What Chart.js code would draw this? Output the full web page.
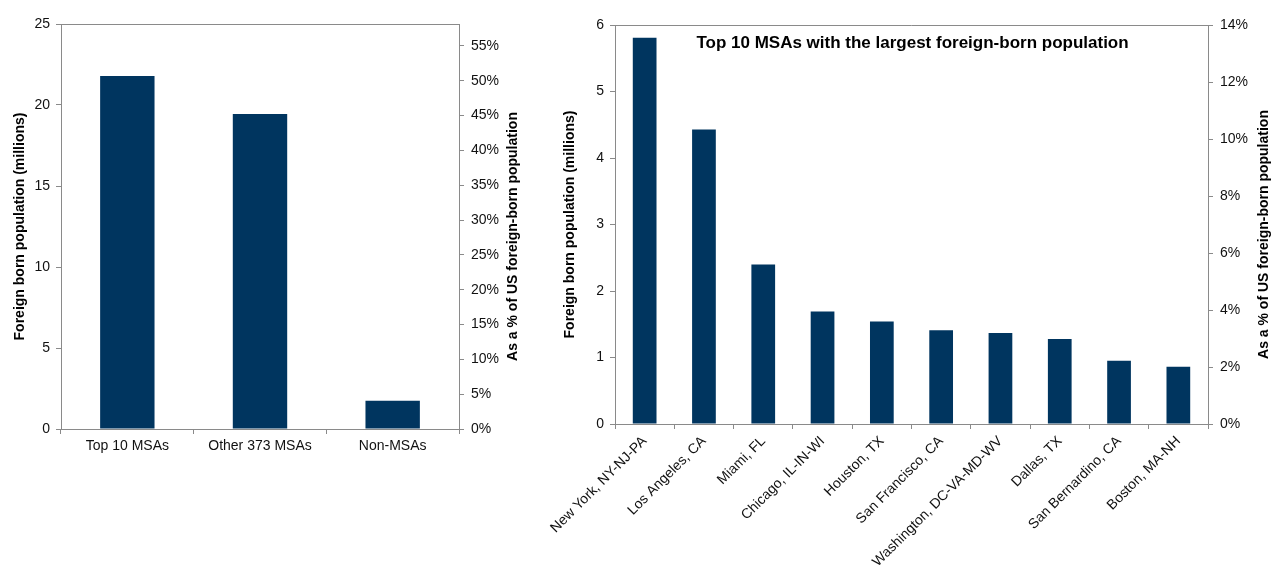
<!DOCTYPE html>
<html>
<head>
<meta charset="utf-8">
<script src="https://cdn.jsdelivr.net/npm/chart.js@4"></script>
<style>
  html, body { margin: 0; padding: 0; background: #fff; }
  #wrap { position: relative; width: 1271px; height: 567px; overflow: hidden; }
  #left { position: absolute; left: 0; top: 0; }
  #right { position: absolute; left: 540px; top: 0; }
</style>
</head>
<body>
<div id="wrap">
  <canvas id="left" width="540" height="567"></canvas>
  <canvas id="right" width="731" height="567"></canvas>
</div>
<script>
// Foreign-born population by area type (millions)
const groupLabels = ['Top 10 MSAs', 'Other 373 MSAs', 'Non-MSAs'];
const groupValues = [21.79, 19.45, 1.75];

// Ten largest metro areas by foreign-born population (millions)
const msaLabels = [
  'New York, NY-NJ-PA', 'Los Angeles, CA', 'Miami, FL', 'Chicago, IL-IN-WI',
  'Houston, TX', 'San Francisco, CA', 'Washington, DC-VA-MD-WV', 'Dallas, TX',
  'San Bernardino, CA', 'Boston, MA-NH'
];
const msaValues = [5.81, 4.43, 2.40, 1.69, 1.54, 1.41, 1.37, 1.28, 0.95, 0.86];

// Axis tick settings
const leftMillionsMax = 25, leftMillionsStep = 5;
const rightMillionsMax = 6, rightMillionsStep = 1;
const rightPctMax = 14, rightPctStep = 2;
const pctStepLeft = 5;

// Share axis on the left panel: millions as a percent of the US total
const usTotal = groupValues.reduce((s, v) => s + v, 0);
const leftPctMax = leftMillionsMax / usTotal * 100;

const FONT = '"Liberation Sans", Arial, Helvetica, sans-serif';
const AXIS = '#8a8a8a';
const BAR = '#00355f';
const TEXT = '#111';

Chart.defaults.font.family = FONT;
Chart.defaults.font.size = 14;
Chart.defaults.color = TEXT;
Chart.defaults.animation = false;

// Line across the top of the plot area
const frameTop = {
  id: 'frameTop',
  afterDatasetsDraw(chart) {
    const { ctx, chartArea: a } = chart;
    ctx.save();
    ctx.strokeStyle = AXIS;
    ctx.lineWidth = 1;
    ctx.beginPath();
    ctx.moveTo(a.left, Math.round(a.top) + 0.5);
    ctx.lineTo(a.right + 0.5, Math.round(a.top) + 0.5);
    ctx.stroke();
    ctx.restore();
  }
};

// Rotated title for the right-hand axis, reading bottom to top
const sideTitle = {
  id: 'sideTitle',
  afterDraw(chart, args, opts) {
    const { ctx, chartArea: a } = chart;
    ctx.save();
    ctx.translate(opts.x, (a.top + a.bottom) / 2 + opts.dy);
    ctx.rotate(-Math.PI / 2);
    ctx.font = 'bold 14px ' + FONT;
    ctx.fillStyle = '#000';
    ctx.textAlign = 'center';
    ctx.textBaseline = 'middle';
    ctx.fillText(opts.text, 0, 0);
    ctx.restore();
  }
};

// Heading drawn inside the plot area
const innerTitle = {
  id: 'innerTitle',
  afterDraw(chart, args, opts) {
    const { ctx, chartArea: a } = chart;
    ctx.save();
    ctx.font = 'bold 17px ' + FONT;
    ctx.fillStyle = '#000';
    ctx.textAlign = 'center';
    ctx.textBaseline = 'middle';
    ctx.fillText(opts.text, (a.left + a.right) / 2 + opts.dx, opts.y);
    ctx.restore();
  }
};

function sized(w) {
  return s => { s.width = w; s.paddingTop = 0; s.paddingBottom = 0; };
}
function sizedX(h) {
  return s => { s.height = h; s.paddingLeft = 0; s.paddingRight = 0; };
}
const tickGrid = { drawOnChartArea: false, drawTicks: true, tickLength: 5, color: AXIS };
const axisBorder = { color: AXIS, width: 1 };

new Chart(document.getElementById('left'), {
  type: 'bar',
  data: {
    labels: groupLabels,
    datasets: [{
      data: groupValues,
      backgroundColor: BAR,
      categoryPercentage: 1,
      barPercentage: 0.41,
      yAxisID: 'y'
    }]
  },
  options: {
    responsive: false,
    layout: { padding: { top: 24, bottom: 0, left: 0, right: 0 } },
    plugins: {
      legend: { display: false },
      tooltip: { enabled: false },
      sideTitle: { text: 'As a % of US foreign-born population', x: 513.5, dy: 10 }
    },
    scales: {
      x: {
        grid: tickGrid,
        border: axisBorder,
        ticks: { padding: 4, color: TEXT },
        afterFit: sizedX(138)
      },
      y: {
        position: 'left',
        min: 0, max: leftMillionsMax,
        ticks: { stepSize: leftMillionsStep, padding: 6, color: TEXT },
        grid: tickGrid,
        border: axisBorder,
        title: {
          display: true,
          text: 'Foreign born population (millions)',
          font: { weight: 'bold', size: 14 },
          color: '#000',
          padding: { top: 12, bottom: 0 }
        },
        afterFit: sized(61)
      },
      y1: {
        position: 'right',
        min: 0, max: leftPctMax,
        ticks: {
          stepSize: pctStepLeft, includeBounds: false, padding: 7, color: TEXT,
          callback: v => v + '%'
        },
        grid: tickGrid,
        border: axisBorder,
        afterFit: sized(81)
      }
    }
  },
  plugins: [frameTop, sideTitle]
});

new Chart(document.getElementById('right'), {
  type: 'bar',
  data: {
    labels: msaLabels,
    datasets: [{
      data: msaValues,
      backgroundColor: BAR,
      categoryPercentage: 1,
      barPercentage: 0.40,
      yAxisID: 'y'
    }]
  },
  options: {
    responsive: false,
    layout: { padding: { top: 25, bottom: 0, left: 0, right: 0 } },
    plugins: {
      legend: { display: false },
      tooltip: { enabled: false },
      sideTitle: { text: 'As a % of US foreign-born population', x: 724.5, dy: 10 },
      innerTitle: { text: 'Top 10 MSAs with the largest foreign-born population', y: 43.5, dx: 1 }
    },
    scales: {
      x: {
        grid: tickGrid,
        border: axisBorder,
        ticks: { padding: 4, color: TEXT, autoSkip: false, maxRotation: 45, minRotation: 45 },
        afterFit: sizedX(143)
      },
      y: {
        position: 'left',
        min: 0, max: rightMillionsMax,
        ticks: { stepSize: rightMillionsStep, padding: 6, color: TEXT },
        grid: tickGrid,
        border: axisBorder,
        title: {
          display: true,
          text: 'Foreign born population (millions)',
          font: { weight: 'bold', size: 14 },
          color: '#000',
          padding: { top: 22, bottom: 0 }
        },
        afterFit: sized(75)
      },
      y1: {
        position: 'right',
        min: 0, max: rightPctMax,
        ticks: {
          stepSize: rightPctStep, includeBounds: false, padding: 7, color: TEXT,
          callback: v => v + '%'
        },
        grid: tickGrid,
        border: axisBorder,
        afterFit: sized(63)
      }
    }
  },
  plugins: [frameTop, sideTitle, innerTitle]
});
</script>
</body>
</html>
